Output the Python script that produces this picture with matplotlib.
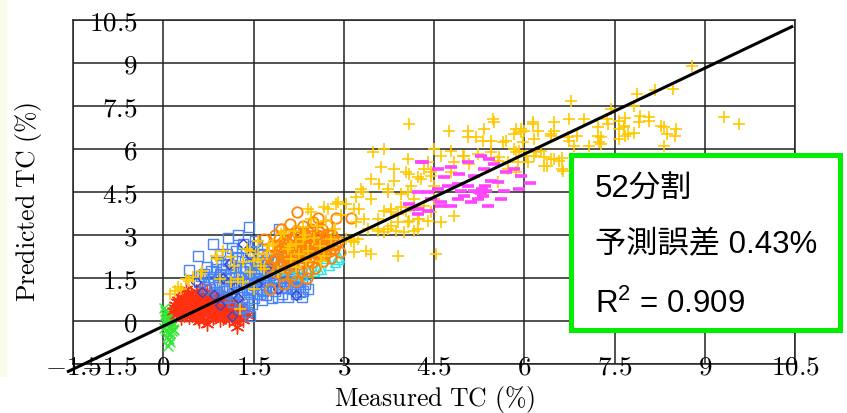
import matplotlib
matplotlib.use("Agg")
import matplotlib.pyplot as plt
from matplotlib.patches import Rectangle

plt.rcParams['mathtext.fontset'] = 'cm'
plt.rcParams['mathtext.rm'] = 'Liberation Sans'
plt.rcParams['mathtext.it'] = 'Liberation Sans:italic'
plt.rcParams['mathtext.bf'] = 'Liberation Sans:bold'

# ---------------- data ----------------
tick_vals = [-1.5, 0, 1.5, 3, 4.5, 6, 7.5, 9, 10.5]
tick_labels = ['-1.5', '0', '1.5', '3', '4.5', '6', '7.5', '9', '10.5']

line_x = [-1.6, 10.47]
line_y = [-1.78, 10.29]

green_pts = [(0.02,0.45),(0.05,0.38),(0.08,0.30),(0.03,0.22),(0.10,0.25),(0.06,0.12),(0.12,0.10),
             (0.04,0.02),(0.09,-0.05),(0.15,-0.10),(0.07,-0.15),(0.11,0.05),(0.02,-0.25),(0.05,-0.32),
             (0.13,-0.20),(0.08,-0.40),(0.16,-0.28),(0.03,0.35),(0.10,0.18),(0.06,-0.08),(0.14,-0.35),
             (0.09,-0.48),(0.04,0.28),(0.12,0.15),(0.18,-0.30),(0.07,-0.55),(0.11,-0.42),(0.05,-0.12),
             (0.15,-0.05),(0.09,-0.62),(0.12,-0.72),(0.08,-0.88)]

red_pts = [(0.17,0.35),(0.20,0.55),(0.22,0.20),(0.25,0.75),(0.27,0.40),(0.30,0.10),(0.32,0.60),(0.35,0.90),
           (0.36,0.30),(0.38,1.10),(0.40,0.70),(0.42,0.15),(0.44,0.45),(0.46,0.95),(0.48,0.60),(0.50,0.25),
           (0.52,0.80),(0.54,1.05),(0.55,0.40),(0.57,0.10),(0.58,0.65),(0.60,0.90),(0.62,0.30),(0.64,1.15),
           (0.65,0.55),(0.67,0.75),(0.68,0.05),(0.70,0.45),(0.72,0.95),(0.73,-0.10),(0.74,0.25),(0.76,0.65),
           (0.78,0.85),(0.80,0.35),(0.82,0.10),(0.84,0.55),(0.86,0.75),(0.88,0.20),(0.90,0.45),(0.92,0.95),
           (0.94,0.05),(0.96,0.60),(0.98,0.30),(1.00,0.80),(1.02,0.15),(1.04,0.50),(1.06,0.35),(1.08,0.70),
           (1.10,0.05),(1.12,0.45),(1.15,0.25),(1.18,0.60),(1.20,-0.05),(1.23,-0.20),(1.25,0.35),(1.28,0.15),
           (1.30,0.50),(1.33,0.05),(1.36,0.30),(1.40,0.20),(0.45,0.30),(0.63,0.50),(0.85,0.40),(0.55,0.70),
           (0.75,0.15),(0.95,0.20),(0.33,0.45),(0.28,0.65),(0.60,0.00),
           (0.19,0.45),(0.23,0.65),(0.26,0.30),(0.29,0.85),(0.31,0.50),(0.34,0.20),(0.37,0.75),(0.39,0.40),
           (0.41,0.95),(0.43,0.60),(0.47,0.20),(0.49,0.85),(0.51,0.50),(0.53,0.15),(0.56,0.95),(0.59,0.35),
           (0.61,0.75),(0.66,0.25),(0.69,0.90),(0.71,0.60),(0.77,0.45),(0.79,1.00),(0.81,0.65),(0.83,0.25),
           (0.87,0.55),(0.89,0.85),(0.91,0.30),(0.93,0.65),(0.97,0.45),(0.99,0.10),(1.01,0.60),(1.03,0.35),
           (1.07,0.20),(1.09,0.55),(1.13,0.75),(1.16,0.40),(1.19,0.20),(1.22,0.50),(1.26,0.65),(1.31,0.30)]

blue_pts = [(0.42,1.78),(0.57,2.27),(0.62,1.57),(0.75,1.47),(0.70,1.20),(0.80,1.75),(0.85,1.30),(0.88,2.05),
            (0.90,1.00),(0.92,1.55),(0.95,2.35),(0.98,1.20),(1.00,1.80),(1.02,0.80),(1.05,1.45),(1.07,2.10),
            (1.10,1.10),(1.12,1.65),(1.14,2.55),(1.16,0.65),(1.18,1.35),(1.20,1.90),(1.22,1.00),(1.24,2.25),
            (1.26,1.55),(1.28,0.45),(1.30,1.20),(1.32,2.70),(1.33,1.75),(1.35,0.85),(1.36,2.05),(1.38,1.40),
            (1.40,0.30),(1.42,3.28),(1.43,1.00),(1.45,1.65),(1.46,2.40),(1.48,0.60),(1.50,1.25),(1.52,1.95),
            (1.53,2.80),(1.55,0.95),(1.57,1.50),(1.58,2.20),(1.60,1.10),(1.62,1.80),(1.64,0.75),(1.65,2.50),
            (1.67,1.35),(1.69,2.05),(1.70,0.90),(1.72,1.60),(1.74,2.30),(1.76,1.20),(1.78,1.85),(1.80,0.80),
            (1.82,1.45),(1.84,2.15),(1.86,1.05),(1.88,1.70),(1.90,2.45),(1.92,3.20),(1.93,1.30),(1.95,1.95),
            (1.97,0.95),(1.99,1.55),(2.01,2.25),(2.03,1.15),(2.05,1.80),(2.08,0.85),(2.10,1.40),(2.12,2.05),
            (2.15,1.10),(2.18,1.65),(2.20,0.95),(2.22,1.35),(2.25,1.85),(2.28,1.20),(2.30,1.47),(2.33,1.05),
            (2.36,1.30),(2.40,1.12),(2.30,0.84),(1.45,0.17),(1.35,0.50),(0.82,2.70),(1.08,2.90),(1.25,3.00),
            (1.55,2.65),(1.15,0.95),(1.05,1.20),(0.95,1.65),(1.60,1.40),(1.40,1.10),(1.70,1.20),(1.85,1.35),
            (2.00,1.60),(1.30,1.55),(1.50,1.70),
            (0.60,1.35),(0.68,1.65),(0.72,1.90),(0.78,1.10),(0.83,1.55),(0.87,1.80),(0.93,1.25),(0.97,1.95),
            (1.01,1.05),(1.03,1.60),(1.06,2.35),(1.09,1.50),(1.11,0.85),(1.13,1.95),(1.17,1.20),(1.19,1.70),
            (1.21,2.45),(1.23,1.30),(1.27,1.85),(1.29,0.95),(1.31,2.20),(1.34,1.35),(1.37,1.85),(1.39,0.75),
            (1.41,1.55),(1.44,2.00),(1.47,1.15),(1.49,2.60),(1.51,0.80),(1.54,1.45),(1.56,2.05),(1.59,1.65),
            (1.61,0.95),(1.63,2.35),(1.66,1.05),(1.68,1.75),(1.71,2.15),(1.73,1.40),(1.77,1.60),(1.79,2.05),
            (1.81,1.15),(1.83,1.75),(1.87,1.50),(1.89,2.10),(1.91,0.85),(1.94,1.65),(1.96,1.20),(1.98,2.00),
            (2.02,1.40),(2.06,1.15),(2.09,1.75),(2.13,1.30),(2.16,1.55),(2.19,1.20),(2.24,1.50),(2.27,1.00)]

diamond_pts = [(1.32,2.69),(2.20,0.90),(1.15,0.17),(0.65,1.00),(1.00,1.50),(1.25,0.80),(1.55,1.30),
               (0.85,0.90),(1.70,1.90),(1.10,2.00),(1.45,2.30),(1.90,1.10),(0.55,1.35),(1.20,1.20),(0.95,0.55)]

cyan_pts = [(2.90,2.16),(2.40,1.70),(2.62,1.82),(1.95,1.80),(2.92,2.23),(2.50,1.75),(2.75,1.95),
            (2.20,1.65),(2.85,2.05),(2.05,1.90),(2.30,1.60),(2.70,2.20),(2.12,1.64),(2.58,1.80)]

orange_pts = [(1.67,2.86),(1.72,2.30),(1.75,1.90),(1.78,1.10),(1.80,2.60),(1.83,2.10),(1.85,3.00),(1.87,1.70),
              (1.90,2.45),(1.92,2.85),(1.94,2.00),(1.96,3.20),(1.98,1.60),(2.00,2.70),(2.02,2.25),(2.04,3.05),
              (2.06,1.85),(2.08,2.55),(2.10,3.40),(2.12,2.10),(2.14,2.85),(2.16,1.60),(2.18,2.40),(2.20,3.15),
              (2.22,2.65),(2.23,3.80),(2.25,2.00),(2.27,2.95),(2.29,1.75),(2.31,2.50),(2.33,3.30),(2.35,2.20),
              (2.37,2.80),(2.39,1.50),(2.41,3.10),(2.43,2.40),(2.45,2.95),(2.47,2.05),(2.49,3.45),(2.51,2.60),
              (2.53,1.85),(2.55,3.00),(2.58,3.60),(2.60,2.30),(2.62,2.75),(2.64,3.20),(2.66,2.10),(2.68,2.90),
              (2.70,2.50),(2.72,3.35),(2.75,2.70),(2.78,2.20),(2.80,3.00),(2.83,2.50),(2.87,3.60),(2.90,2.80),
              (2.93,2.40),(3.12,3.60),(2.00,1.30),(2.20,1.40),(2.40,1.75),(1.95,2.35),(2.15,2.30),(2.35,2.60),
              (2.55,2.45),(2.25,2.75),(2.45,2.25),(2.65,2.55),(2.05,2.00),(2.30,2.05),
              (1.88,2.20),(1.93,2.60),(1.97,2.10),(2.01,2.45),(2.03,2.80),(2.07,2.35),(2.09,2.85),(2.11,2.45),
              (2.13,2.65),(2.17,2.15),(2.19,2.95),(2.21,2.50),(2.24,2.20),(2.26,3.10),(2.28,2.60),(2.30,2.35),
              (2.32,2.85),(2.34,2.45),(2.36,3.05),(2.38,2.30),(2.40,2.70),(2.42,2.10),(2.44,2.60),(2.46,3.20),
              (2.48,2.45),(2.50,2.75),(2.52,2.25),(2.54,2.90),(2.57,2.55),(2.59,3.10),(2.61,2.40),(2.63,2.95),
              (2.67,2.65),(2.69,2.30),(2.71,2.80),(2.74,3.05),(2.77,2.45),(2.79,2.75),(2.82,2.90),(2.86,2.65)]

gold_pts = [(0.12,0.94),(0.20,1.05),(0.25,1.19),(0.30,1.10),(0.37,1.47),(0.42,1.40),(0.50,1.55),(0.62,1.64),
            (0.65,1.75),(0.87,2.27),(0.90,2.16),(0.95,1.47),(1.00,2.44),(1.12,2.23),(1.12,1.36),(1.17,1.92),
            (1.25,1.47),(1.28,0.42),(1.33,1.36),(1.33,2.06),(1.40,2.51),(1.45,1.70),(1.45,2.44),(1.50,1.12),
            (1.50,2.10),(1.57,2.34),(1.57,2.80),(1.57,2.16),(1.62,1.92),(1.67,1.81),(1.73,2.34),(1.75,2.62),
            (1.82,2.69),(1.90,1.71),(1.95,3.03),(2.00,3.10),(2.07,2.51),(2.12,2.16),(2.17,3.14),(2.20,1.88),
            (2.32,2.86),(2.32,3.28),(2.37,2.09),(2.40,3.90),(2.40,2.44),(2.45,3.56),(2.45,3.80),(2.62,2.09),
            (2.67,2.27),(2.67,3.98),(2.73,3.90),(2.78,2.86),(2.87,4.08),(2.90,4.15),(3.03,4.08),(3.03,2.86),
            (3.12,2.79),(3.17,2.41),(3.17,2.76),(3.17,3.90),(3.20,4.33),(3.20,3.45),(3.23,2.86),(3.25,3.90),
            (3.28,4.60),(3.32,4.50),(3.33,3.56),(3.37,2.44),(3.40,3.20),(3.45,4.26),(3.45,2.34),(3.45,4.95),
            (3.48,5.90),(3.57,3.56),(3.57,3.20),(3.57,3.14),(3.58,4.78),(3.62,5.37),(3.67,6.00),(3.67,3.84),
            (3.67,3.10),(3.73,4.50),(3.73,3.20),(3.73,4.60),(3.78,3.90),(3.78,3.31),(3.78,3.80),(3.83,4.88),
            (3.83,5.30),(3.87,3.14),(3.90,3.45),(3.90,2.27),(3.90,3.73),(3.95,4.43),(3.95,3.98),(4.00,3.10),
            (4.03,3.84),(4.03,5.20),(4.07,5.65),(4.07,4.50),(4.07,3.45),(4.08,5.13),(4.08,6.87),(4.08,3.49),
            (4.12,4.71),(4.17,3.98),(4.17,3.14),(4.17,4.26),(4.23,5.02),(4.23,3.56),(4.23,3.20),(4.25,3.56),
            (4.28,4.95),(4.33,5.30),(4.33,4.00),(4.40,5.55),(4.40,3.49),(4.45,3.80),(4.45,5.20),(4.45,5.06),
            (4.50,4.26),(4.50,4.71),(4.50,6.00),(4.53,2.34),(4.62,3.45),(4.62,5.76),(4.75,6.63),(4.78,5.20),
            (4.78,5.93),(4.83,3.66),(4.83,5.55),(4.98,5.76),(5.00,5.76),(5.07,6.63),(5.07,6.42),(5.08,5.48),
            (5.20,6.42),(5.23,5.82),(5.32,6.28),(5.33,6.70),(5.45,5.90),(5.45,6.28),(5.48,7.05),(5.50,6.94),
            (5.57,5.58),(5.57,4.85),(5.58,5.72),(5.65,6.24),(5.70,6.28),(5.73,5.55),(5.73,5.30),(5.83,6.00),
            (5.83,6.52),(5.87,5.90),(5.87,6.70),(5.87,5.20),(5.90,5.55),(5.92,5.93),(5.95,6.60),(5.95,6.70),
            (5.98,6.24),(6.00,6.63),(6.03,5.76),(6.07,5.55),(6.15,6.87),(6.15,6.94),(6.17,6.35),(6.17,5.76),
            (6.20,5.90),(6.23,6.63),(6.28,5.93),(6.32,5.72),(6.33,5.41),(6.37,5.41),(6.45,6.52),(6.45,6.45),
            (6.45,5.65),(6.50,6.94),(6.50,6.63),(6.50,5.65),(6.57,5.58),(6.62,5.69),(6.62,5.30),(6.65,5.23),
            (6.73,6.42),(6.75,7.05),(6.75,6.28),(6.78,7.67),(6.83,6.10),(6.87,6.45),(7.00,7.05),(7.08,6.10),
            (7.23,6.77),(7.23,6.45),(7.25,6.24),(7.28,6.42),(7.28,6.17),(7.37,7.05),(7.40,6.87),(7.45,7.39),
            (7.57,6.35),(7.57,6.98),(7.58,6.70),(7.65,6.77),(7.65,6.80),(7.67,7.08),(7.67,6.45),(7.73,6.52),
            (7.82,6.56),(7.83,7.50),(7.87,7.92),(7.90,6.94),(7.92,7.15),(8.07,6.98),(8.08,7.11),(8.17,8.06),
            (8.28,6.80),(8.33,6.10),(8.33,6.77),(8.37,6.52),(8.48,8.09),(8.50,6.45),(8.53,6.70),(8.78,8.90),
            (9.32,7.11),(9.57,6.87),(2.10,2.60),(2.25,2.35),(2.50,2.90),(2.55,3.30),(2.70,3.50),(2.85,3.20),
            (2.95,3.70),(2.60,2.60),(2.35,3.00),(2.20,2.70)]

magenta_pts = [(4.28,5.55),(4.57,5.30),(4.92,5.13),(5.28,5.76),(5.42,5.65),(5.50,5.48),(5.70,5.20),(5.83,5.30),
               (5.92,4.60),(5.57,4.85),(5.37,4.53),(5.32,4.36),(5.23,4.26),(5.40,4.00),(5.12,4.15),(5.00,4.36),
               (4.90,4.26),(5.07,4.71),(4.90,4.78),(4.73,4.71),(4.57,4.60),(4.40,4.50),(4.23,4.50),(4.08,4.08),
               (4.23,3.90),(4.40,3.84),(4.62,4.00),(4.78,4.00),(4.45,4.26),(5.62,4.26),(5.67,4.53),(5.17,5.06),
               (5.33,5.30),(5.07,5.55),(4.78,5.37),(4.67,5.02),(5.17,4.53),(5.25,4.50),(5.30,4.60),(5.28,4.45),
               (5.35,4.70),(4.15,3.90),(4.23,3.73),(4.32,5.55),(4.62,4.15),(6.10,4.80),(5.95,5.05),(4.95,4.55),
               (5.45,4.90)]

box_lines = ['52分割', '予測誤差 0.43%', r'$\mathrm{R}^{2}$ = 0.909']

# ---------------- figure ----------------
W, H = 847, 414
fig = plt.figure(figsize=(W / 100, H / 100), dpi=100)
fig.patch.set_facecolor('white')
fig.add_artist(Rectangle((0, 1 - 378 / H), 7 / W, 378 / H, transform=fig.transFigure,
                         facecolor='#f9fbeb', edgecolor='none', zorder=-5))

ax = fig.add_axes([73 / W, 1 - 365 / H, (795 - 73) / W, (365 - 21) / H])
ax.set_xlim(-1.5, 10.5)
ax.set_ylim(-1.5, 10.5)
ax.set_xticks(tick_vals)
ax.set_yticks(tick_vals)
ax.tick_params(length=0, labelbottom=False, labelleft=False)
ax.grid(True, color='#222222', lw=1.1)
ax.set_axisbelow(True)
for s in ax.spines.values():
    s.set_color('#222222')
    s.set_linewidth(1.1)


def unzip(pts):
    return [p[0] for p in pts], [p[1] for p in pts]


series = [
    (green_pts, dict(marker='x', color='#33e633', ms=7, mew=1.0)),
    (red_pts, dict(marker=(6, 2, 0), color='#ff3010', ms=10, mew=1.0)),
    (blue_pts, dict(marker='s', mec='#4a84f5', mfc='none', ms=7, mew=1.0)),
    (diamond_pts, dict(marker='D', mec='#3a46c8', mfc='none', ms=5.5, mew=1.0)),
    (cyan_pts, dict(marker='^', mec='#22e8e8', mfc='none', ms=7.5, mew=1.0)),
    (orange_pts, dict(marker='o', mec='#ff8400', mfc='none', ms=7.5, mew=1.3)),
    (gold_pts, dict(marker='+', color='#ffc800', ms=9, mew=1.2)),
    (magenta_pts, dict(marker='_', color='#ff44ff', ms=9, mew=2.6)),
]
for pts, kw in series:
    xs, ys = unzip(pts)
    ax.plot(xs, ys, linestyle='none', **kw)

ax.plot(line_x, line_y, color='black', lw=2.2, clip_on=False, zorder=5,
        solid_capstyle='butt')

# tick labels (drawn inside the plot like the original)
for v, lab in zip(tick_vals, tick_labels):
    ax.text(-0.43, v - 0.08, '$' + lab + '$', ha='right', va='center', fontsize=19.5,
            clip_on=False, zorder=6)
    ax.text(v, -1.57, '$' + lab + '$', ha='center', va='center', fontsize=19.5,
            clip_on=False, zorder=6)

fig.text(434 / W, 1 - 400 / H, r'$\mathrm{Measured\ TC\ (\%)}$', ha='center', va='center',
         fontsize=18.5)
fig.text(28 / W, 1 - 202 / H, r'$\mathrm{Predicted\ TC\ (\%)}$', ha='center', va='center',
         fontsize=18.5, rotation=90)

# result box
fig.add_artist(Rectangle((570.5 / W, 1 - 330.5 / H), 269 / W, 175 / H, transform=fig.transFigure,
                         facecolor='white', edgecolor='#00ee00', lw=3.6, zorder=10))
fam = ['Liberation Sans', 'Noto Sans CJK JP']
for i, (lab, yb) in enumerate(zip(box_lines, [198, 253, 313])):
    kw = dict(math_fontfamily='custom') if i == 2 else {}
    fig.text(595 / W, 1 - yb / H, lab, ha='left', va='baseline', fontsize=22.5,
             family=fam, zorder=11, **kw)

fig.savefig('out.png', dpi=100)
